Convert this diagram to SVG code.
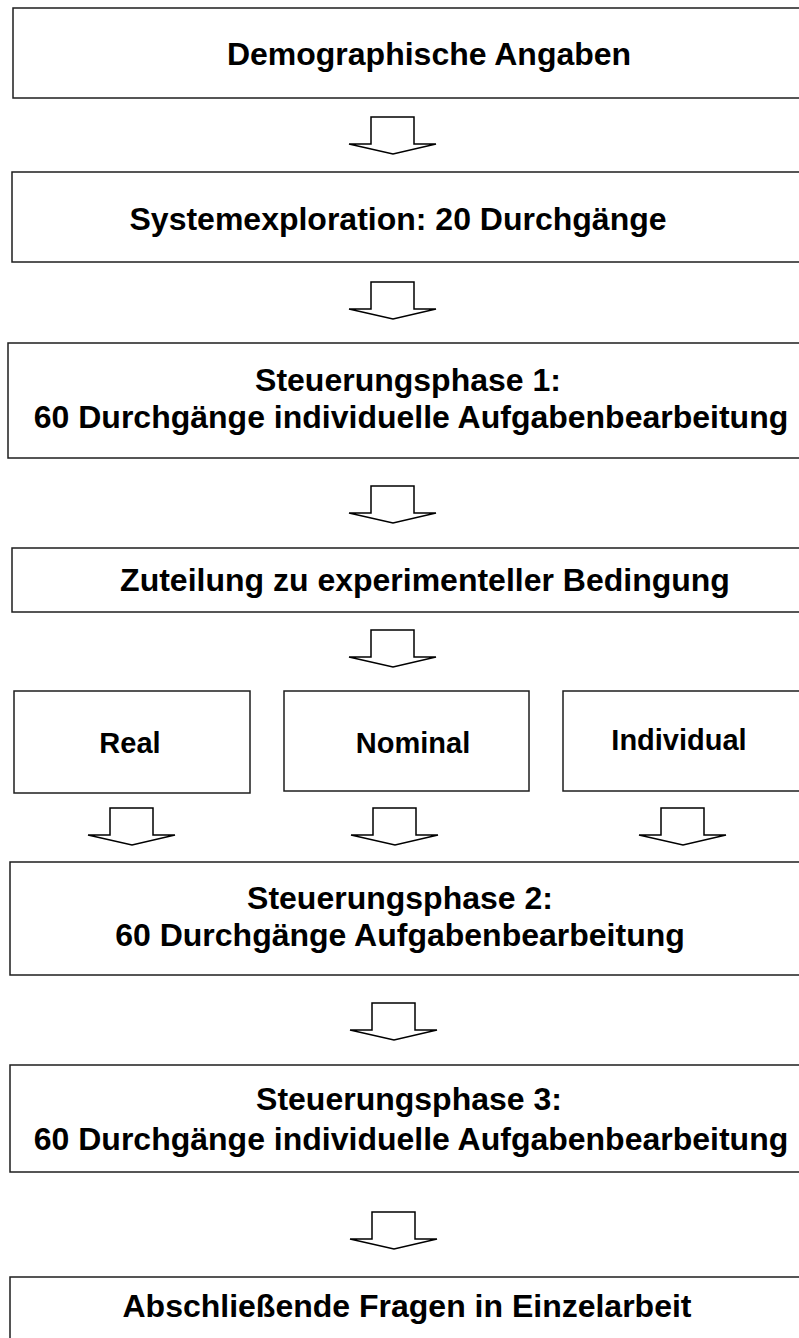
<svg xmlns="http://www.w3.org/2000/svg" width="799" height="1338" viewBox="0 0 799 1338">
<defs>
<style>
.box{fill:#fff;stroke:#1e1e1e;stroke-width:1.5}
.t{font-family:"Liberation Sans",Arial,sans-serif;font-weight:bold;font-size:32px;fill:#000;text-anchor:middle}
.s{font-size:29px}
.arr{fill:#fff;stroke:#000;stroke-width:1.5;stroke-linejoin:miter}
</style>
<path id="ar" d="M-22,0 H21 V27 H43 L0,37 L-44,27 H-22 Z"/>
</defs>
<rect width="799" height="1338" fill="#fff"/>
<g id="connectors">
<use href="#ar" class="arr" x="393" y="117"/>
<use href="#ar" class="arr" x="393" y="282"/>
<use href="#ar" class="arr" x="393" y="486"/>
<use href="#ar" class="arr" x="393" y="630"/>
<use href="#ar" class="arr" x="132" y="808"/>
<use href="#ar" class="arr" x="395" y="808"/>
<use href="#ar" class="arr" x="683" y="808"/>
<use href="#ar" class="arr" x="394" y="1003"/>
<use href="#ar" class="arr" x="394" y="1212"/>
</g>
<g id="n1"><rect class="box" x="13" y="8" width="900" height="90"/><text class="t" x="429" y="65">Demographische Angaben</text></g>
<g id="n2"><rect class="box" x="12" y="172" width="900" height="90"/><text class="t" x="398" y="230">Systemexploration: 20 Durchgänge</text></g>
<g id="n3"><rect class="box" x="8" y="343" width="900" height="115"/><text class="t" x="408" y="391">Steuerungsphase 1:</text><text class="t" x="411" y="428">60 Durchgänge individuelle Aufgabenbearbeitung</text></g>
<g id="n4"><rect class="box" x="12" y="548" width="900" height="64"/><text class="t" x="425" y="591">Zuteilung zu experimenteller Bedingung</text></g>
<g id="n5"><rect class="box" x="14" y="691" width="236" height="102"/><text class="t s" x="130" y="753">Real</text></g>
<g id="n6"><rect class="box" x="284" y="691" width="245" height="100"/><text class="t s" x="413" y="753">Nominal</text></g>
<g id="n7"><rect class="box" x="563" y="691" width="300" height="100"/><text class="t s" x="679" y="750">Individual</text></g>
<g id="n8"><rect class="box" x="10" y="862" width="900" height="113"/><text class="t" x="400" y="909">Steuerungsphase 2:</text><text class="t" x="400" y="946">60 Durchgänge Aufgabenbearbeitung</text></g>
<g id="n9"><rect class="box" x="10" y="1065" width="900" height="107"/><text class="t" x="409" y="1110">Steuerungsphase 3:</text><text class="t" x="411" y="1150">60 Durchgänge individuelle Aufgabenbearbeitung</text></g>
<g id="n10"><rect class="box" x="10" y="1277" width="900" height="120"/><text class="t" x="407" y="1317">Abschließende Fragen in Einzelarbeit</text></g>
</svg>
